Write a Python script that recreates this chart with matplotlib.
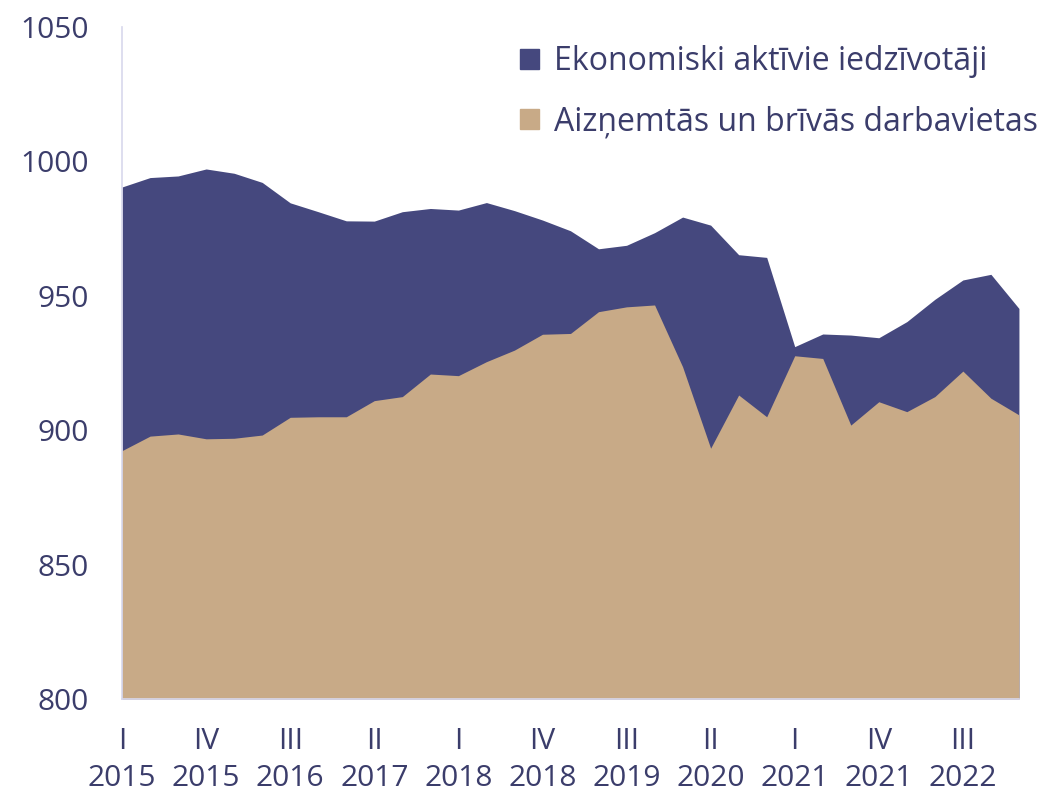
import numpy as np
import matplotlib
matplotlib.use("Agg")
import matplotlib.pyplot as plt
from matplotlib.patches import Patch

# quarterly data, 2015 Q1 .. 2023 Q1 (thousands)
active = [990.5, 994.0, 994.6, 997.2, 995.6, 992.2, 984.6, 981.3, 977.9, 977.8,
          981.3, 982.5, 981.9, 984.7, 981.7, 978.2, 974.2, 967.5, 968.8, 973.5,
          979.3, 976.3, 965.3, 964.3, 931.1, 935.8, 935.4, 934.4, 940.4, 948.7,
          955.9, 958.0, 945.3]
jobs = [892.4, 897.8, 898.6, 896.8, 897.0, 898.2, 904.8, 905.0, 905.0, 911.0,
        912.5, 920.9, 920.3, 925.5, 929.8, 935.7, 936.0, 944.1, 945.9, 946.6,
        923.6, 893.3, 913.1, 905.0, 927.7, 926.7, 901.9, 910.6, 906.9, 912.5,
        922.0, 911.9, 905.7]
start_year = 2015
roman = ["I", "II", "III", "IV"]
series_names = ["Ekonomiski aktīvie iedzīvotāji", "Aizņemtās un brīvās darbavietas"]
yticks = [800, 850, 900, 950, 1000, 1050]

BLUE = "#45487e"
TAN = "#c8aa87"
TEXT = "#3b3d6b"
SPINE = "#d8d8ec"

plt.rcParams['font.family'] = ['Open Sans', 'DejaVu Sans']

x = np.arange(len(active))
fig = plt.figure(figsize=(10.44, 7.96), dpi=100)
ax = fig.add_axes([0.1169, 0.1219, 0.976 - 0.1169, 0.966 - 0.1219])

ax.fill_between(x, 800, active, color=BLUE, linewidth=0)
ax.fill_between(x, 800, jobs, color=TAN, linewidth=0)

ax.set_xlim(0, len(x) - 1)
ax.set_ylim(800, 1050)
ax.set_yticks(yticks)
ax.set_yticklabels([str(v) for v in yticks])

xt = x[::3]
ax.set_xticks(xt)
ax.set_xticklabels([f"{roman[i % 4]}\n{start_year + i // 4}" for i in xt],
                   linespacing=1.38)

ax.tick_params(axis='both', length=0, labelsize=21.5, colors=TEXT)
ax.tick_params(axis='y', pad=24)
ax.tick_params(axis='x', pad=20)
for lab in ax.get_yticklabels():
    lab.set_horizontalalignment('right')

for s in ["top", "right"]:
    ax.spines[s].set_visible(False)
for s in ["left", "bottom"]:
    ax.spines[s].set_color(SPINE)
    ax.spines[s].set_linewidth(1.2)

handles = [Patch(color=BLUE), Patch(color=TAN)]
leg = ax.legend(handles, series_names, loc="upper right",
                bbox_to_anchor=(1.035, 0.992), frameon=False, fontsize=23,
                handlelength=0.6, handleheight=0.6, handletextpad=0.45,
                labelspacing=0.85, borderaxespad=0)
for t in leg.get_texts():
    t.set_color(TEXT)

fig.savefig("out.png", dpi=100)
